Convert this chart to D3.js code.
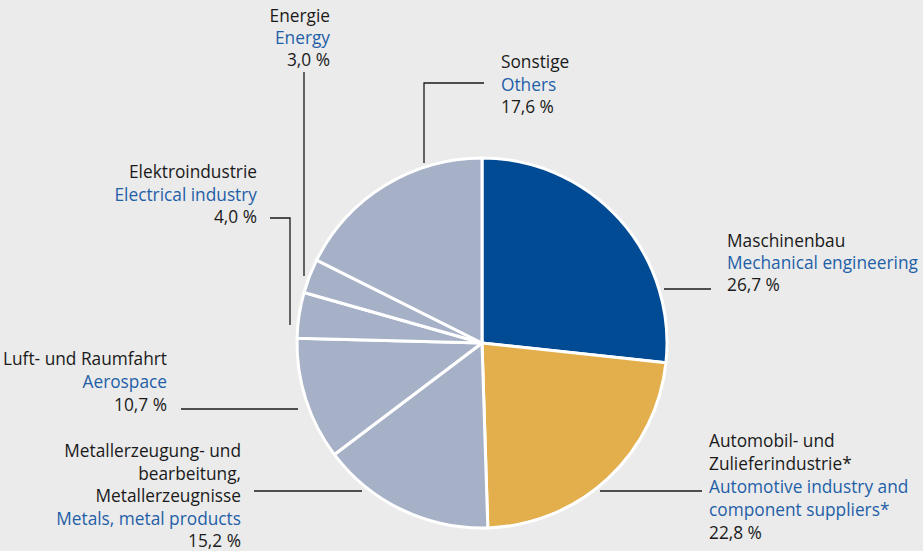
<!DOCTYPE html>
<html><head><meta charset="utf-8">
<script src="https://cdn.jsdelivr.net/npm/d3@7"></script>
<style>
html,body{margin:0;padding:0;background:#ebebeb;}
svg{display:block;}
text{font-family:"Open Sans",sans-serif;font-size:17.3px;}
</style></head>
<body>
<script>
const categoriesDe = ["Maschinenbau","Automobil- und|Zulieferindustrie*","Metallerzeugung- und|bearbeitung,|Metallerzeugnisse","Luft- und Raumfahrt","Elektroindustrie","Energie","Sonstige"];
const categoriesEn = ["Mechanical engineering","Automotive industry and|component suppliers*","Metals, metal products","Aerospace","Electrical industry","Energy","Others"];
const values = [26.7, 22.8, 15.2, 10.7, 4.0, 3.0, 17.6];
const valueLabels = ["26,7 %","22,8 %","15,2 %","10,7 %","4,0 %","3,0 %","17,6 %"];
const colors = ["#004b93","#e3af4d","#a6b1c8","#a6b1c8","#a6b1c8","#a6b1c8","#a6b1c8"];

const W=923,H=551, cx=482, cy=343, R=185;
const svg=d3.select("body").append("svg").attr("width",W).attr("height",H);
svg.append("rect").attr("width",W).attr("height",H).attr("fill","#ebebeb");

const pie=d3.pie().sort(null).value(d=>d)(values);
const arc=d3.arc().innerRadius(0).outerRadius(R);
const g=svg.append("g").attr("transform",`translate(${cx},${cy})`);
g.selectAll("path").data(pie).join("path")
 .attr("d",arc).attr("fill",(d,i)=>colors[i])
 .attr("stroke","#fff").attr("stroke-width",3).attr("stroke-linejoin","round");

// leader lines (label layout)
const leaders=[
 [[664,289],[711,289]],
 [[600,491],[702,491]],
 [[362,491],[254,491]],
 [[298,409],[181,409]],
 [[290,325],[290,218],[270,218]],
 [[304,276],[304,72]],
 [[424,163],[424,83],[484,83]]
];
const line=d3.line();
svg.selectAll("path.leader").data(leaders).join("path").attr("class","leader")
 .attr("d",d=>line(d)).attr("fill","none").attr("stroke","#1a1a1a").attr("stroke-width",1.3);

// label blocks: x, first baseline y, anchor
const labelPos=[
 {x:727,y:247,a:"start",lh:22},
 {x:709,y:447,a:"start",lh:23},
 {x:241,y:457,a:"end",lh:22.5},
 {x:167,y:365,a:"end",lh:23},
 {x:257,y:178,a:"end",lh:22.5},
 {x:330,y:22,a:"end",lh:22},
 {x:501,y:68,a:"start",lh:22.5}
];
labelPos.forEach((p,i)=>{
 const lines=[];
 categoriesDe[i].split("|").forEach(s=>lines.push({t:s,c:"#1a1a1a"}));
 categoriesEn[i].split("|").forEach(s=>lines.push({t:s,c:"#1f5fa8"}));
 lines.push({t:valueLabels[i],c:"#1a1a1a"});
 const t=svg.append("text").attr("text-anchor",p.a);
 lines.forEach((l,k)=>{
   t.append("tspan").attr("x",p.x).attr("y",p.y+k*p.lh).attr("fill",l.c).text(l.t);
 });
});
</script>
</body></html>
